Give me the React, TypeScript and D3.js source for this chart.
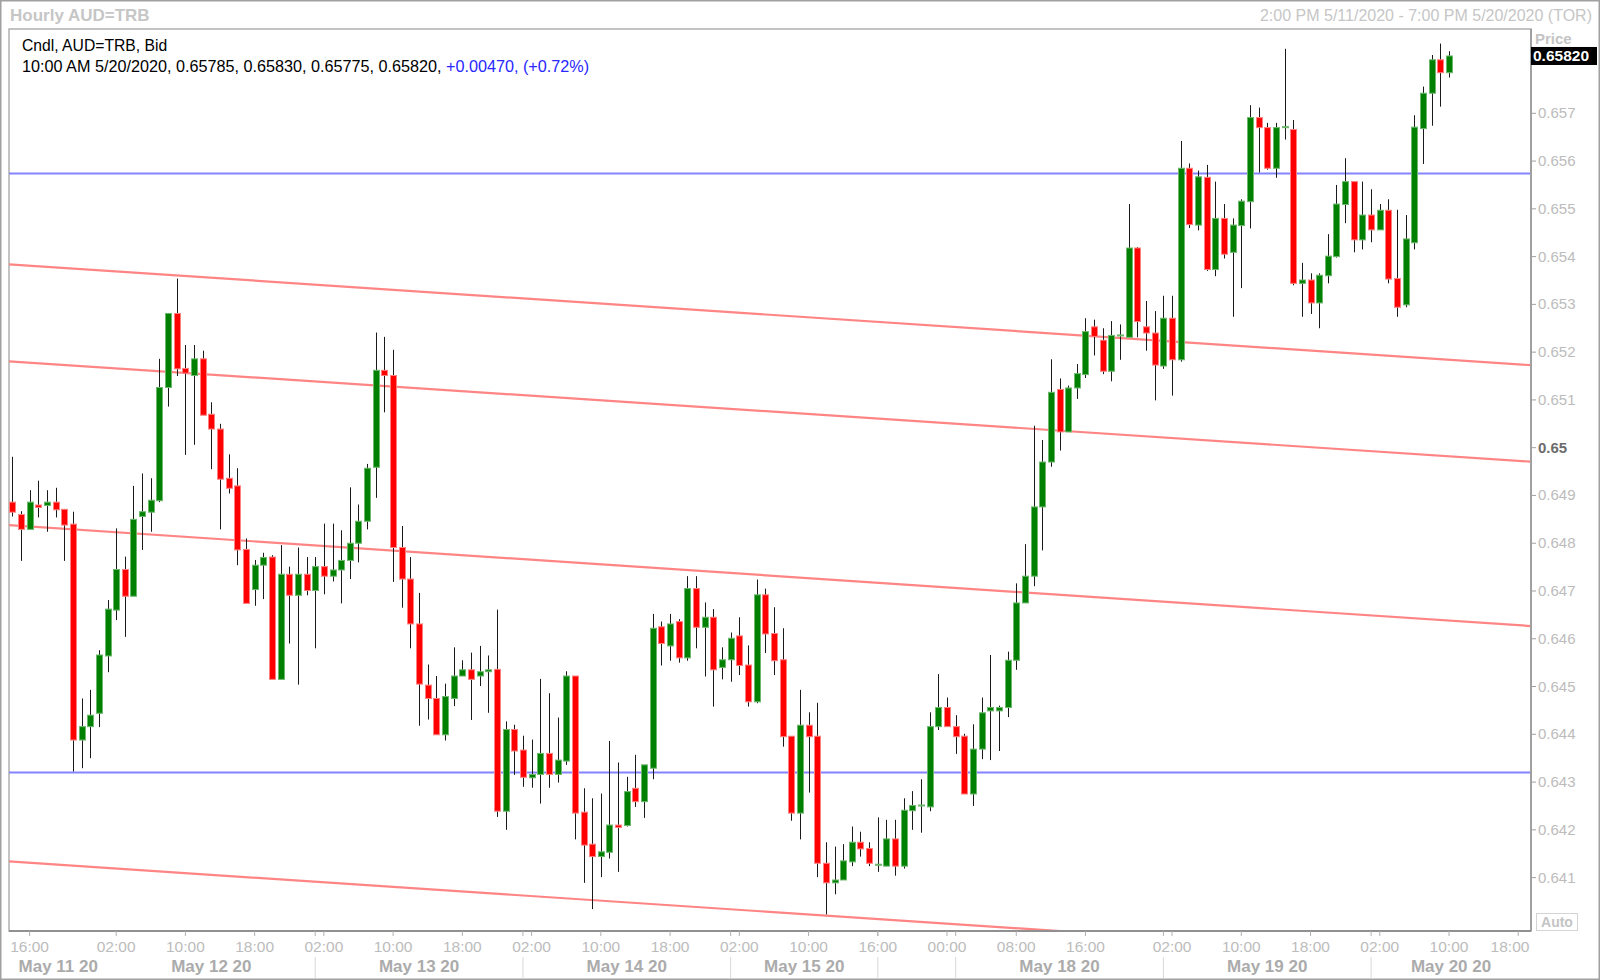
import React from 'react';
import * as d3 from 'd3';

// Hourly AUD=TRB bid candles, 2:00 PM 5/11/2020 .. 10:00 AM 5/20/2020 (bar index 0..166)
const opens = [
  0.64886, 0.64860, 0.64829, 0.64880, 0.64879, 0.64886, 0.64871, 0.64840, 0.64388, 0.64416,
  0.64444, 0.64564, 0.64660, 0.64745, 0.64689, 0.64856, 0.64865, 0.64889, 0.65126, 0.65281,
  0.65166, 0.65151, 0.65186, 0.65070, 0.65039, 0.64936, 0.64920, 0.64787, 0.64703, 0.64754,
  0.64771, 0.64515, 0.64735, 0.64691, 0.64735, 0.64701, 0.64751, 0.64731, 0.64744, 0.64764,
  0.64800, 0.64846, 0.64959, 0.65162, 0.65151, 0.64791, 0.64725, 0.64631, 0.64503, 0.64475,
  0.64399, 0.64475, 0.64522, 0.64535, 0.64522, 0.64531, 0.64536, 0.64239, 0.64410, 0.64367,
  0.64309, 0.64316, 0.64360, 0.64316, 0.64344, 0.64522, 0.64237, 0.64170, 0.64144, 0.64153,
  0.64210, 0.64209, 0.64287, 0.64259, 0.64329, 0.64625, 0.64585, 0.64636, 0.64560, 0.64705,
  0.64624, 0.64645, 0.64540, 0.64556, 0.64606, 0.64545, 0.64468, 0.64692, 0.64611, 0.64556,
  0.64396, 0.64235, 0.64419, 0.64396, 0.64130, 0.64089, 0.64095, 0.64133, 0.64174, 0.64161,
  0.64127, 0.64124, 0.64181, 0.64124, 0.64240, 0.64251, 0.64248, 0.64416, 0.64456, 0.64416,
  0.64396, 0.64275, 0.64369, 0.64449, 0.64449, 0.64456, 0.64555, 0.64675, 0.64731, 0.64876,
  0.64970, 0.65122, 0.65033, 0.65125, 0.65153, 0.65253, 0.65225, 0.65160, 0.65235, 0.65231,
  0.65418, 0.65253, 0.65240, 0.65171, 0.65271, 0.65184, 0.65585, 0.65466, 0.65566, 0.65373,
  0.65480, 0.65409, 0.65465, 0.65515, 0.65691, 0.65670, 0.65585, 0.65670, 0.65666, 0.65344,
  0.65351, 0.65303, 0.65360, 0.65400, 0.65509, 0.65557, 0.65435, 0.65487, 0.65456, 0.65497,
  0.65354, 0.65299, 0.65429, 0.65668, 0.65742, 0.65812, 0.65785,
];
const highs = [
  0.64981, 0.64867, 0.64911, 0.64931, 0.64911, 0.64916, 0.64871, 0.64866, 0.64475, 0.64493,
  0.64576, 0.64681, 0.64831, 0.64772, 0.64920, 0.64946, 0.64936, 0.65186, 0.65281, 0.65354,
  0.65215, 0.65215, 0.65203, 0.65095, 0.65050, 0.64986, 0.64957, 0.64810, 0.64765, 0.64780,
  0.64775, 0.64796, 0.64751, 0.64791, 0.64771, 0.64771, 0.64841, 0.64841, 0.64827, 0.64917,
  0.64881, 0.64966, 0.65241, 0.65232, 0.65205, 0.64836, 0.64771, 0.64696, 0.64546, 0.64522,
  0.64506, 0.64582, 0.64555, 0.64571, 0.64585, 0.64565, 0.64661, 0.64427, 0.64420, 0.64397,
  0.64389, 0.64516, 0.64486, 0.64435, 0.64532, 0.64522, 0.64287, 0.64266, 0.64276, 0.64386,
  0.64341, 0.64311, 0.64357, 0.64336, 0.64652, 0.64636, 0.64652, 0.64641, 0.64731, 0.64731,
  0.64676, 0.64662, 0.64582, 0.64613, 0.64645, 0.64586, 0.64724, 0.64705, 0.64666, 0.64622,
  0.64396, 0.64493, 0.64446, 0.64466, 0.64174, 0.64165, 0.64170, 0.64207, 0.64196, 0.64174,
  0.64226, 0.64221, 0.64221, 0.64266, 0.64281, 0.64306, 0.64446, 0.64526, 0.64477, 0.64440,
  0.64401, 0.64421, 0.64477, 0.64566, 0.64460, 0.64573, 0.64716, 0.64798, 0.65046, 0.65016,
  0.65185, 0.65145, 0.65130, 0.65175, 0.65271, 0.65268, 0.65250, 0.65265, 0.65258, 0.65510,
  0.65420, 0.65307, 0.65286, 0.65318, 0.65318, 0.65642, 0.65595, 0.65580, 0.65592, 0.65557,
  0.65510, 0.65480, 0.65520, 0.65717, 0.65712, 0.65680, 0.65680, 0.65835, 0.65686, 0.65387,
  0.65365, 0.65365, 0.65447, 0.65550, 0.65606, 0.65557, 0.65557, 0.65541, 0.65510, 0.65520,
  0.65498, 0.65487, 0.65696, 0.65756, 0.65822, 0.65846, 0.65830,
];
const lows = [
  0.64856, 0.64763, 0.64829, 0.64854, 0.64824, 0.64854, 0.64763, 0.64322, 0.64329, 0.64350,
  0.64415, 0.64530, 0.64639, 0.64604, 0.64689, 0.64786, 0.64824, 0.64886, 0.65086, 0.65150,
  0.64985, 0.65006, 0.65068, 0.64955, 0.64829, 0.64904, 0.64754, 0.64674, 0.64669, 0.64683,
  0.64515, 0.64515, 0.64590, 0.64504, 0.64691, 0.64580, 0.64693, 0.64720, 0.64674, 0.64725,
  0.64760, 0.64829, 0.64895, 0.65074, 0.64719, 0.64665, 0.64580, 0.64418, 0.64431, 0.64399,
  0.64387, 0.64459, 0.64522, 0.64430, 0.64501, 0.64445, 0.64227, 0.64200, 0.64315, 0.64290,
  0.64288, 0.64255, 0.64288, 0.64299, 0.64336, 0.64180, 0.64089, 0.64034, 0.64101, 0.64140,
  0.64112, 0.64207, 0.64248, 0.64225, 0.64306, 0.64544, 0.64554, 0.64550, 0.64554, 0.64580,
  0.64521, 0.64458, 0.64515, 0.64510, 0.64524, 0.64458, 0.64465, 0.64570, 0.64524, 0.64374,
  0.64219, 0.64180, 0.64278, 0.64101, 0.64023, 0.64065, 0.64095, 0.64124, 0.64144, 0.64124,
  0.64112, 0.64124, 0.64104, 0.64119, 0.64200, 0.64194, 0.64239, 0.64409, 0.64416, 0.64359,
  0.64275, 0.64250, 0.64348, 0.64346, 0.64365, 0.64436, 0.64535, 0.64675, 0.64710, 0.64785,
  0.64960, 0.64994, 0.65033, 0.65102, 0.65146, 0.65193, 0.65154, 0.65139, 0.65184, 0.65231,
  0.65231, 0.65203, 0.65099, 0.65165, 0.65109, 0.65180, 0.65460, 0.65455, 0.65370, 0.65359,
  0.65396, 0.65274, 0.65334, 0.65459, 0.65576, 0.65582, 0.65565, 0.65645, 0.65340, 0.65274,
  0.65280, 0.65250, 0.65344, 0.65398, 0.65470, 0.65409, 0.65415, 0.65430, 0.65456, 0.65344,
  0.65274, 0.65294, 0.65415, 0.65594, 0.65674, 0.65714, 0.65775,
];
const closes = [
  0.64865, 0.64829, 0.64886, 0.64875, 0.64886, 0.64870, 0.64838, 0.64388, 0.64416, 0.64440,
  0.64566, 0.64662, 0.64745, 0.64689, 0.64850, 0.64866, 0.64890, 0.65126, 0.65281, 0.65165,
  0.65156, 0.65186, 0.65068, 0.65039, 0.64934, 0.64915, 0.64786, 0.64674, 0.64754, 0.64770,
  0.64515, 0.64735, 0.64691, 0.64735, 0.64701, 0.64751, 0.64731, 0.64744, 0.64764, 0.64800,
  0.64846, 0.64957, 0.65162, 0.65151, 0.64791, 0.64725, 0.64631, 0.64505, 0.64475, 0.64399,
  0.64479, 0.64522, 0.64535, 0.64515, 0.64531, 0.64535, 0.64239, 0.64410, 0.64365, 0.64310,
  0.64316, 0.64360, 0.64316, 0.64346, 0.64522, 0.64235, 0.64168, 0.64144, 0.64154, 0.64210,
  0.64205, 0.64280, 0.64259, 0.64336, 0.64622, 0.64590, 0.64631, 0.64560, 0.64705, 0.64624,
  0.64645, 0.64535, 0.64556, 0.64601, 0.64544, 0.64468, 0.64692, 0.64610, 0.64554, 0.64395,
  0.64235, 0.64419, 0.64395, 0.64130, 0.64089, 0.64095, 0.64135, 0.64174, 0.64160, 0.64130,
  0.64128, 0.64181, 0.64124, 0.64241, 0.64251, 0.64252, 0.64416, 0.64456, 0.64416, 0.64395,
  0.64275, 0.64369, 0.64445, 0.64456, 0.64456, 0.64555, 0.64675, 0.64731, 0.64876, 0.64970,
  0.65116, 0.65033, 0.65125, 0.65155, 0.65243, 0.65233, 0.65160, 0.65235, 0.65236, 0.65418,
  0.65264, 0.65240, 0.65173, 0.65271, 0.65184, 0.65585, 0.65467, 0.65567, 0.65373, 0.65480,
  0.65405, 0.65466, 0.65516, 0.65691, 0.65670, 0.65585, 0.65670, 0.65672, 0.65344, 0.65351,
  0.65303, 0.65361, 0.65401, 0.65510, 0.65557, 0.65435, 0.65487, 0.65456, 0.65497, 0.65353,
  0.65294, 0.65437, 0.65671, 0.65742, 0.65812, 0.65785, 0.65820,
];

const priceTicks = [
  0.641, 0.642, 0.643, 0.644, 0.645, 0.646, 0.647, 0.648, 0.649,
  0.65, 0.651, 0.652, 0.653, 0.654, 0.655, 0.656, 0.657,
];

const timeTicks = [
  { i: 2, label: '16:00' }, { i: 12, label: '02:00' }, { i: 20, label: '10:00' },
  { i: 28, label: '18:00' }, { i: 36, label: '02:00' }, { i: 44, label: '10:00' },
  { i: 52, label: '18:00' }, { i: 60, label: '02:00' }, { i: 68, label: '10:00' },
  { i: 76, label: '18:00' }, { i: 84, label: '02:00' }, { i: 92, label: '10:00' },
  { i: 100, label: '16:00' }, { i: 108, label: '00:00' }, { i: 116, label: '08:00' },
  { i: 124, label: '16:00' }, { i: 134, label: '02:00' }, { i: 142, label: '10:00' },
  { i: 150, label: '18:00' }, { i: 158, label: '02:00' }, { i: 166, label: '10:00' },
  { i: 174, label: '18:00' },
];

// day boundaries (bar index); null = edge of the plot
const dayStarts = [null, 11, 35, 59, 83, 100, 109, 133, 157];
const dayNames = ['May 11 20', 'May 12 20', 'May 13 20', 'May 14 20', 'May 15 20', '', 'May 18 20', 'May 19 20', 'May 20 20'];
const daySeparators = [35, 59, 83, 100, 109, 133, 157];

// horizontal levels (blue) and descending channel lines (red), in bar index / price
const levels = [0.65574, 0.6432];
const channels = [
  { i0: -0.5, p0: 0.65384, i1: 176, p1: 0.65172 },
  { i0: -0.5, p0: 0.65181, i1: 176, p1: 0.6497 },
  { i0: -0.5, p0: 0.64838, i1: 176, p1: 0.64626 },
  { i0: -0.5, p0: 0.64134, i1: 176, p1: 0.63922 },
];

const lastLabel = '10:00 AM 5/20/2020';
const netChange = '+0.00470, (+0.72%)';

const W = 1600;
const H = 980;
const plot = { left: 9, right: 1531, top: 29, bottom: 931 };
const font = '"Liberation Sans", Arial, sans-serif';

export default function App() {
  const x = d3.scaleLinear().domain([0, 166]).range([12.3, 1449]);
  const y = d3.scaleLinear().domain([0.641, 0.657]).range([877.6, 113.3]);

  const candles = opens.map((o, i) => ({ o, h: highs[i], l: lows[i], c: closes[i], i }));
  const last = candles[candles.length - 1];

  const lineGen = d3.line<[number, number]>().x(d => x(d[0])).y(d => y(d[1]));
  const dayBounds = dayStarts.map(s => (s === null ? null : x(s)));

  return (
    <svg width={W} height={H} style={{ position: 'absolute', left: 0, top: 0, background: '#fff' }} fontFamily={font}>
      <defs>
        <clipPath id="plotClip">
          <rect x={plot.left} y={plot.top} width={plot.right - plot.left} height={plot.bottom - plot.top} />
        </clipPath>
      </defs>
      <rect x={0} y={0} width={W} height={H} fill="#fff" />
      <rect x={0.75} y={0.75} width={W - 1.5} height={H - 1.5} fill="none" stroke="#a0a0a0" strokeWidth={1.5} />

      {/* header */}
      <text x={10} y={21} fontSize={17} fontWeight="bold" fill="#c6c6c6">Hourly AUD=TRB</text>
      <text x={1592} y={21} fontSize={16} fill="#c6c6c6" textAnchor="end">
        2:00 PM 5/11/2020 - 7:00 PM 5/20/2020 (TOR)
      </text>

      {/* plot frame */}
      <rect x={plot.left} y={plot.top} width={plot.right - plot.left} height={plot.bottom - plot.top}
        fill="#fff" stroke="#b0b0b0" strokeWidth={1.5} />

      <g clipPath="url(#plotClip)">
        {levels.map((p, k) => (
          <line key={'lv' + k} x1={plot.left} x2={plot.right} y1={y(p)} y2={y(p)} stroke="#8484ff" strokeWidth={2.2} />
        ))}
        {channels.map((ch, k) => (
          <path key={'ch' + k} d={lineGen([[ch.i0, ch.p0], [ch.i1, ch.p1]]) || ''} fill="none" stroke="#ff8585" strokeWidth={2.2} />
        ))}

        {candles.map(d => {
          const cx = Math.round(x(d.i)) + 0.5;
          const up = d.c >= d.o;
          const top = y(Math.max(d.o, d.c));
          const bot = y(Math.min(d.o, d.c));
          const h = Math.max(1, bot - top);
          return (
            <g key={'c' + d.i}>
              <line x1={cx} x2={cx} y1={y(d.h)} y2={y(d.l)} stroke="#1a1a1a" strokeWidth={1} />
              <rect x={cx - 3} y={top} width={6} height={h}
                fill={up ? '#008000' : '#ff0000'} stroke={up ? '#6cb86c' : '#ff8080'} strokeWidth={1} />
            </g>
          );
        })}
      </g>

      {/* legend text */}
      <text x={22} y={51} fontSize={15.7} fill="#000">Cndl, AUD=TRB, Bid</text>
      <text x={22} y={72} fontSize={16.2} fill="#000">
        <tspan>{`${lastLabel}, ${last.o.toFixed(5)}, ${last.h.toFixed(5)}, ${last.l.toFixed(5)}, ${last.c.toFixed(5)}, `}</tspan>
        <tspan fill="#2828ff">{netChange}</tspan>
      </text>

      {/* right price axis */}
      <line x1={plot.right} x2={plot.right} y1={plot.top} y2={plot.bottom} stroke="#a0a0a0" strokeWidth={2} />
      <text x={1535} y={44} fontSize={15} fontWeight="bold" fill="#c4c4c4">Price</text>
      {priceTicks.map(p => {
        const bold = Math.abs(p - 0.65) < 1e-9;
        return (
          <g key={'pt' + p}>
            <line x1={plot.right} x2={plot.right + 5} y1={y(p)} y2={y(p)} stroke="#a0a0a0" />
            <text x={1538} y={y(p) + 5} fontSize={15} fontWeight={bold ? 'bold' : 'normal'}
              fill={bold ? '#6c6c6c' : '#bcbcbc'}>{d3.format('')(p)}</text>
          </g>
        );
      })}
      <rect x={plot.right} y={y(last.c) - 9} width={66} height={18} fill="#000" />
      <text x={plot.right + 2} y={y(last.c) + 5.5} fontSize={15.5} fontWeight="bold" fill="#fff">{last.c.toFixed(5)}</text>
      <rect x={1536.5} y={913.5} width={41} height={17} fill="#fff" stroke="#d4d4d4" />
      <text x={1557} y={927} fontSize={14} fontWeight="bold" fill="#c4c4c4" textAnchor="middle">Auto</text>

      {/* bottom time axis */}
      <line x1={plot.left} x2={plot.right} y1={plot.bottom} y2={plot.bottom} stroke="#909090" strokeWidth={2} />
      {timeTicks.map(t => {
        const tx = x(t.i);
        const lx = Math.min(tx, plot.right - 21);
        return (
          <g key={'tt' + t.i}>
            <line x1={tx} x2={tx} y1={plot.bottom} y2={plot.bottom + 5} stroke="#b0b0b0" />
            <text x={lx} y={951.5} fontSize={15.5} fill="#bcbcbc" textAnchor="middle">{t.label}</text>
          </g>
        );
      })}
      {daySeparators.map(s => (
        <g key={'ds' + s}>
          <line x1={x(s)} x2={x(s)} y1={plot.bottom} y2={plot.bottom + 5} stroke="#b0b0b0" />
          <line x1={x(s)} x2={x(s)} y1={957} y2={978} stroke="#d8d8d8" />
        </g>
      ))}
      {dayNames.map((name, k) => {
        if (!name) return null;
        const a = dayBounds[k] ?? plot.left;
        const b = k + 1 < dayBounds.length ? (dayBounds[k + 1] as number) : plot.right;
        return (
          <text key={'dn' + k} x={(a + b) / 2} y={972} fontSize={17} fontWeight="bold" fill="#ababab" textAnchor="middle">
            {name}
          </text>
        );
      })}
    </svg>
  );
}
